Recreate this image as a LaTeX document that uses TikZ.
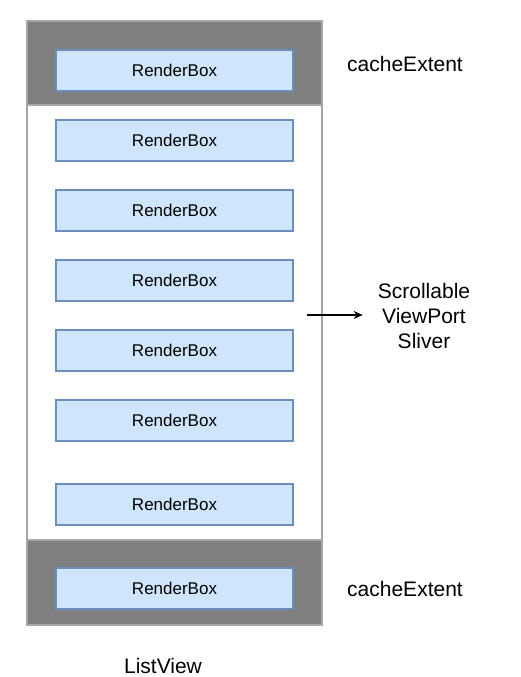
\documentclass[tikz,border=0pt]{standalone}
\usepackage{fontspec}
\setmainfont{Liberation Sans}
\usetikzlibrary{positioning,arrows.meta}
\definecolor{bandgray}{HTML}{7F7F7F}
\definecolor{framegray}{HTML}{A6A6A6}
\definecolor{boxfill}{HTML}{CFE5FC}
\definecolor{boxblue}{HTML}{6C8EBF}

\begin{document}
\begin{tikzpicture}[x=1pt,y=-1pt,>={Stealth[length=9pt,width=8pt]}]
    \tikzset{node distance = 29pt}
    \tikzstyle{BoxStyle}=[draw         = boxblue,
                          fill         = boxfill,
                          line width   = 1.2pt,
                          minimum width  = 237pt,
                          minimum height = 41pt,
                          inner sep    = 0pt,
                          outer sep    = 0pt,
                          font         = \fontsize{17}{20}\selectfont]
    \tikzstyle{LabelStyle}=[font  = \fontsize{21}{25}\selectfont,
                            align = center]
    \useasboundingbox (0,0) rectangle (521,677);
    % frame and cache bands
    \draw[fill=white, draw=framegray, line width=1.2pt] (27,21) rectangle (322,625);
    \draw[fill=bandgray, draw=framegray, line width=1.2pt] (27,21) rectangle (322,105);
    \draw[fill=bandgray, draw=framegray, line width=1.2pt] (27,540) rectangle (322,625);
    % render boxes
    \node[BoxStyle] (b1) at (174.5,70.5) {RenderBox};
    \node[BoxStyle, below=of b1] (b2) {RenderBox};
    \node[BoxStyle, below=of b2] (b3) {RenderBox};
    \node[BoxStyle, below=of b3] (b4) {RenderBox};
    \node[BoxStyle, below=of b4] (b5) {RenderBox};
    \node[BoxStyle, below=of b5] (b6) {RenderBox};
    \node[BoxStyle, below=43pt of b6] (b7) {RenderBox};
    \node[BoxStyle, below=43pt of b7] (b8) {RenderBox};
    % labels
    \node[LabelStyle] (cacheTop) at (405,64) {cacheExtent};
    \node[LabelStyle] (cacheBottom) at (405,589) {cacheExtent};
    \node[LabelStyle, inner sep=15pt] (sliver) at (424,316) {Scrollable\\ViewPort\\Sliver};
    \node[LabelStyle] (listview) at (163,666) {ListView};
    \coordinate (arrowStart) at (307,315);
    \draw[->, line width=1.3pt] (arrowStart) -- (arrowStart -| sliver.west);
\end{tikzpicture}
\end{document}
